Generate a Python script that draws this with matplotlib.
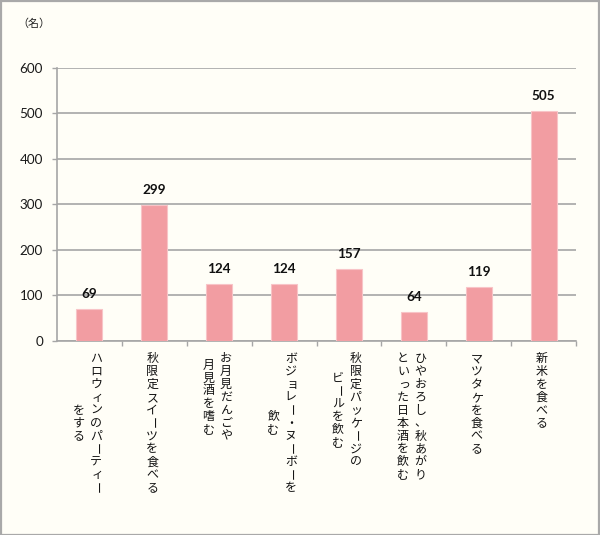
import matplotlib
matplotlib.use("Agg")
import matplotlib.pyplot as plt
from matplotlib.patches import Rectangle

plt.rcParams['font.family'] = ['Lato', 'Noto Sans CJK JP', 'DejaVu Sans']

# データ
categories = [
    "ハロウィンのパーティー\nをする",
    "秋限定スイーツを食べる",
    "お月見だんごや\n月見酒を嗜む",
    "ボジョレー・ヌーボーを\n飲む",
    "秋限定パッケージの\nビールを飲む",
    "ひやおろし、秋あがり\nといった日本酒を飲む",
    "マツタケを食べる",
    "新米を食べる",
]
values = [69, 299, 124, 124, 157, 64, 119, 505]
yticks = [0, 100, 200, 300, 400, 500, 600]
unit_label = "（名）"

bg = "#FFFEF7"
bar_color = "#F29DA2"
grid_color = "#A6A6A6"

W, H = 600, 535
fig = plt.figure(figsize=(W / 100, H / 100), dpi=100, facecolor=bg)
ax = fig.add_axes([57 / W, (H - 340.7) / H, (576 - 57) / W, (340.7 - 67.7) / H])
ax.set_facecolor(bg)

PX = 0.72  # px -> pt

x = list(range(len(values)))
ax.bar(x, values, width=0.4, color=bar_color, edgecolor="#F8C4C7", linewidth=0.8, zorder=3)
ax.set_xlim(-0.5, len(values) - 0.5)
ax.set_ylim(0, 600)

ax.set_yticks(yticks)
ax.set_yticklabels([str(t) for t in yticks], fontsize=13.5 * PX, color="#1A1A1A")
ax.yaxis.grid(True, color=grid_color, linewidth=1.2, zorder=0)
ax.tick_params(axis="y", length=5 * PX, width=1, color=grid_color, pad=9 * PX)

# カテゴリ境界の目盛り
ax.set_xticks([i + 0.5 for i in range(len(values))])
ax.set_xticklabels([])
ax.tick_params(axis="x", length=5 * PX, width=1, color=grid_color, direction="out")

for side in ["top", "right"]:
    ax.spines[side].set_visible(False)
for side in ["left", "bottom"]:
    ax.spines[side].set_color(grid_color)
    ax.spines[side].set_linewidth(1.2)

# 値ラベル
for xi, v in zip(x, values):
    ax.annotate(str(v), (xi, v), xytext=(0, 15 * PX), textcoords="offset points",
                ha="center", va="center", fontsize=13.5 * PX, fontweight="bold",
                color="#111111", zorder=5)

# 縦書きのカテゴリラベル
pitch = 12.9
top = 11.5
col_gap = 17.5
small_kana = set("ィッョャュァォェぁぃぅぇぉっゃゅょ")
for xi, label in zip(x, categories):
    cols = label.split("\n")
    n = len(cols)
    maxlen = max(len(c) for c in cols)
    for ci, col in enumerate(cols):
        dx = ((n - 1) / 2 - ci) * col_gap - 2
        dy0 = -(top + (maxlen - len(col)) * pitch / 2 + pitch / 2)
        for k, ch in enumerate(col):
            ox, oy = dx, dy0 - k * pitch
            rot = 0
            if ch == "ー":
                rot = -90
            if ch in small_kana:
                ox += 1.5
            ax.annotate(ch, (xi, 0), xycoords=("data", "axes fraction"),
                        xytext=(ox * PX, oy * PX), textcoords="offset points",
                        ha="center", va="center", rotation=rot,
                        fontsize=12 * PX, family=["Noto Sans CJK JP", "DejaVu Sans"],
                        color="#111111", annotation_clip=False)

fig.text(17 / W, 1 - 24 / H, unit_label, fontsize=11 * PX, va="center", ha="left",
         family=["Noto Sans CJK JP", "DejaVu Sans"], color="#222222")

fig.patches.append(Rectangle((0.5 / W, 0.5 / H), 1 - 1.5 / W, 1 - 1.5 / H,
                             transform=fig.transFigure, fill=False,
                             edgecolor="#A9A9A9", linewidth=1.6))

fig.savefig("out.png", dpi=100, facecolor=bg)
